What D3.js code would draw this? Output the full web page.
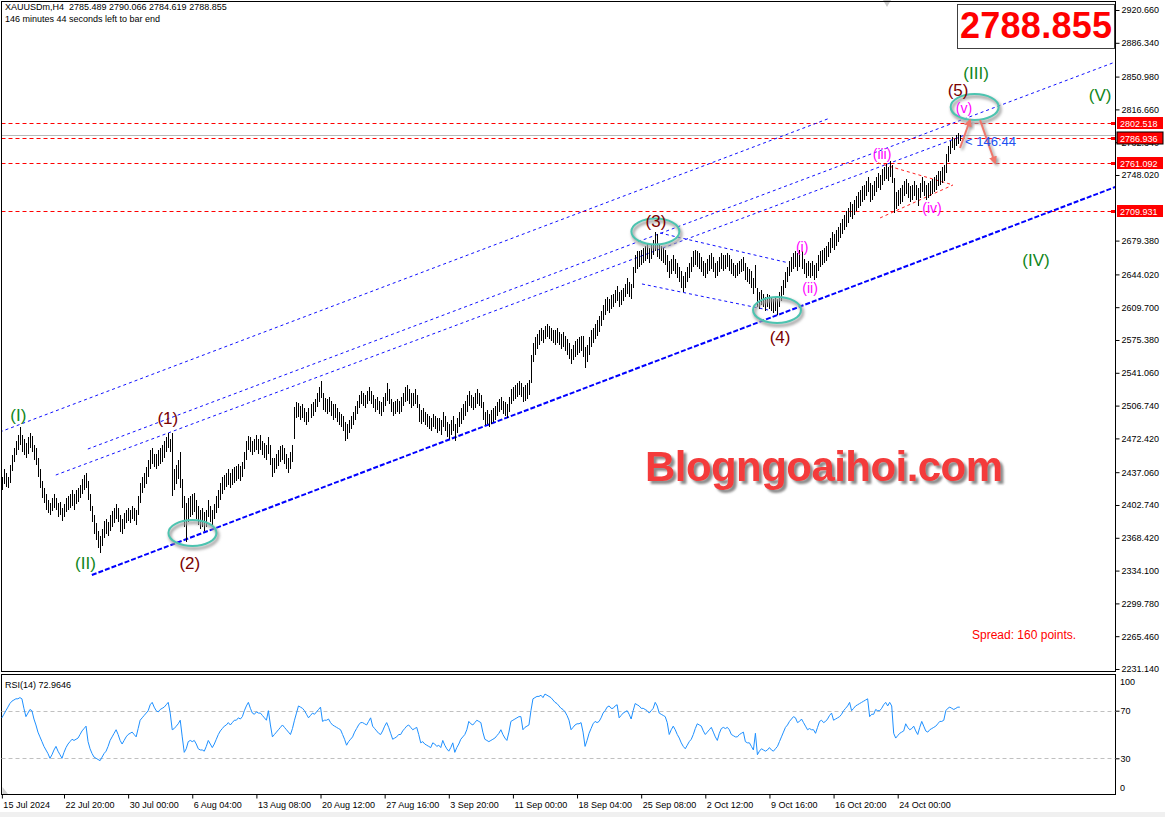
<!DOCTYPE html>
<html>
<head>
<meta charset="utf-8">
<title>XAUUSDm,H4</title>
<script src="https://d3js.org/d3.v7.min.js"></script>
<style>
  body { margin: 0; background: #fff; font-family: "Liberation Sans", Arial, sans-serif; }
  svg { display: block; }
  .tick text { font-family: "Liberation Sans", Arial, sans-serif; font-size: 9px; fill: #000; }
  .tick line { stroke: #000; }
</style>
</head>
<body>
<svg id="chart" width="1165" height="817"></svg>
<script>
// H4 bars, [low, high], one per bar from 15 Jul 2024
const priceBars = [
  [2418,2432],[2425,2440],[2422,2436],[2420,2432],[2426,2445],[2438,2455],[2448,2462],[2455,2470],[2460,2476],[2465,2484],
  [2458,2476],[2455,2472],[2452,2468],[2456,2474],[2462,2478],[2458,2475],[2450,2466],[2445,2462],[2432,2452],[2420,2440],
  [2410,2428],[2405,2420],[2398,2414],[2394,2408],[2392,2405],[2396,2410],[2400,2414],[2398,2410],[2390,2405],[2392,2406],
  [2386,2400],[2390,2404],[2395,2410],[2398,2412],[2400,2414],[2402,2418],[2398,2414],[2404,2418],[2406,2420],[2410,2424],
  [2414,2430],[2418,2434],[2420,2436],[2408,2428],[2396,2414],[2385,2402],[2372,2392],[2366,2384],[2358,2376],[2352,2370],
  [2360,2378],[2368,2386],[2372,2388],[2370,2385],[2376,2392],[2380,2396],[2384,2400],[2388,2404],[2385,2400],[2375,2392],
  [2372,2388],[2378,2394],[2384,2398],[2386,2400],[2384,2398],[2388,2402],[2386,2400],[2382,2398],[2392,2412],[2405,2426],
  [2415,2432],[2420,2436],[2425,2442],[2432,2450],[2440,2460],[2446,2462],[2442,2456],[2440,2456],[2444,2460],[2446,2462],
  [2448,2466],[2452,2470],[2458,2474],[2462,2478],[2458,2472],[2412,2478],[2418,2440],[2425,2445],[2430,2450],[2420,2458],
  [2400,2430],[2380,2412],[2364,2405],[2385,2410],[2390,2412],[2392,2414],[2395,2415],[2388,2408],[2382,2402],[2378,2398],
  [2380,2400],[2376,2395],[2380,2398],[2390,2408],[2385,2402],[2382,2398],[2388,2404],[2394,2412],[2400,2418],[2408,2426],
  [2414,2432],[2418,2434],[2422,2436],[2424,2440],[2420,2436],[2424,2440],[2426,2442],[2428,2444],[2430,2446],[2428,2444],
  [2432,2448],[2440,2458],[2450,2470],[2460,2475],[2458,2474],[2455,2470],[2458,2472],[2460,2476],[2456,2472],[2460,2476],
  [2455,2470],[2452,2468],[2450,2465],[2456,2474],[2445,2466],[2432,2452],[2436,2452],[2440,2456],[2444,2460],[2448,2464],
  [2450,2466],[2446,2462],[2440,2456],[2436,2452],[2440,2458],[2448,2466],[2472,2505],[2494,2510],[2495,2509],[2492,2506],
  [2494,2508],[2490,2504],[2486,2500],[2490,2504],[2494,2508],[2496,2510],[2500,2514],[2505,2520],[2510,2526],[2515,2532],
  [2502,2520],[2500,2515],[2498,2514],[2500,2516],[2496,2512],[2492,2508],[2494,2508],[2490,2504],[2486,2500],[2484,2498],
  [2480,2496],[2470,2490],[2472,2488],[2478,2492],[2482,2496],[2486,2500],[2492,2506],[2498,2512],[2504,2518],[2508,2522],
  [2506,2520],[2504,2518],[2508,2522],[2512,2526],[2508,2522],[2504,2518],[2500,2514],[2502,2516],[2498,2512],[2496,2510],
  [2500,2516],[2506,2520],[2512,2530],[2508,2524],[2500,2514],[2496,2510],[2498,2512],[2500,2514],[2498,2512],[2500,2516],
  [2506,2520],[2510,2526],[2512,2528],[2508,2524],[2504,2520],[2506,2520],[2508,2524],[2504,2518],[2490,2508],[2488,2502],
  [2490,2504],[2486,2500],[2484,2498],[2482,2496],[2480,2494],[2484,2498],[2482,2496],[2478,2494],[2480,2494],[2476,2492],
  [2484,2500],[2480,2496],[2474,2490],[2472,2488],[2476,2492],[2480,2496],[2470,2488],[2478,2494],[2484,2500],[2488,2504],
  [2492,2508],[2496,2512],[2500,2518],[2506,2522],[2504,2518],[2502,2516],[2504,2520],[2508,2524],[2506,2520],[2504,2518],
  [2492,2510],[2486,2500],[2488,2502],[2484,2498],[2488,2502],[2490,2504],[2492,2506],[2496,2510],[2500,2514],[2502,2516],
  [2498,2512],[2496,2510],[2494,2508],[2500,2516],[2508,2524],[2512,2526],[2514,2528],[2516,2530],[2518,2532],[2516,2530],
  [2510,2526],[2512,2528],[2514,2530],[2518,2534],[2530,2560],[2552,2572],[2560,2578],[2566,2582],[2570,2586],[2574,2588],
  [2572,2586],[2576,2590],[2578,2592],[2576,2590],[2574,2588],[2572,2586],[2570,2586],[2572,2588],[2570,2584],[2566,2582],
  [2568,2584],[2564,2580],[2560,2576],[2556,2572],[2550,2566],[2554,2570],[2558,2574],[2560,2576],[2562,2578],[2564,2580],
  [2558,2580],[2546,2568],[2552,2570],[2560,2578],[2568,2586],[2572,2588],[2576,2592],[2580,2596],[2584,2600],[2590,2606],
  [2596,2612],[2602,2618],[2606,2620],[2604,2618],[2608,2622],[2610,2624],[2614,2628],[2616,2632],[2610,2626],[2612,2628],
  [2616,2630],[2620,2634],[2624,2640],[2620,2636],[2618,2634],[2630,2652],[2645,2664],[2650,2668],[2652,2668],[2654,2670],
  [2656,2672],[2658,2674],[2660,2676],[2656,2672],[2660,2676],[2664,2680],[2668,2688],[2662,2686],[2660,2676],[2658,2674],
  [2656,2672],[2654,2670],[2646,2664],[2640,2658],[2644,2660],[2648,2664],[2644,2660],[2640,2656],[2636,2652],[2630,2648],
  [2626,2642],[2630,2646],[2636,2652],[2640,2656],[2646,2662],[2652,2668],[2654,2670],[2652,2668],[2650,2666],[2646,2662],
  [2642,2658],[2640,2656],[2644,2660],[2648,2664],[2650,2666],[2646,2662],[2640,2656],[2642,2658],[2646,2662],[2650,2666],
  [2648,2664],[2650,2664],[2652,2666],[2648,2664],[2644,2660],[2642,2656],[2640,2654],[2642,2656],[2644,2658],[2646,2660],
  [2648,2662],[2638,2656],[2636,2652],[2634,2650],[2630,2648],[2624,2640],[2630,2654],[2610,2630],[2608,2626],[2612,2628],
  [2610,2624],[2606,2620],[2610,2624],[2608,2622],[2606,2620],[2604,2618],[2606,2620],[2602,2618],[2610,2626],[2616,2632],
  [2622,2638],[2630,2646],[2636,2652],[2642,2658],[2646,2662],[2650,2666],[2652,2668],[2648,2666],[2652,2670],[2650,2668],
  [2644,2660],[2640,2656],[2642,2658],[2640,2656],[2642,2658],[2638,2654],[2640,2656],[2648,2664],[2652,2668],[2654,2670],
  [2656,2672],[2658,2674],[2662,2678],[2666,2682],[2672,2688],[2670,2686],[2674,2690],[2678,2694],[2682,2698],[2686,2702],
  [2690,2706],[2694,2710],[2698,2714],[2704,2720],[2702,2718],[2706,2722],[2710,2726],[2714,2730],[2716,2732],[2720,2736],
  [2722,2738],[2726,2742],[2730,2746],[2720,2740],[2722,2738],[2726,2742],[2730,2746],[2734,2750],[2732,2748],[2738,2754],
  [2742,2756],[2744,2760],[2742,2756],[2746,2763],[2740,2758],[2708,2745],[2712,2730],[2716,2732],[2718,2734],[2720,2738],
  [2726,2742],[2728,2744],[2724,2740],[2720,2736],[2722,2738],[2726,2742],[2722,2738],[2716,2734],[2724,2740],[2730,2746],
  [2726,2742],[2722,2738],[2724,2740],[2726,2742],[2728,2744],[2730,2746],[2732,2748],[2736,2752],[2738,2752],[2740,2756],
  [2742,2758],[2750,2770],[2762,2778],[2770,2784],[2776,2788],[2774,2786],[2778,2790],[2780,2792],[2784,2790]
];

// RSI(14), one value per bar
const rsiValues = [
  64,67,70,73,76,78,79,80,80,81, 80,72,65,68,71,70,63,58,52,48,
  44,40,37,34,30,33,37,40,36,33, 30,35,39,42,44,46,45,46,47,50,
  53,55,57,44,38,34,31,30,29,28, 31,34,36,40,45,48,51,54,50,45,
  42,45,48,50,51,52,50,48,55,62, 64,66,68,70,75,77,73,70,69,71,
  72,73,75,77,68,54,55,57,59,62, 48,35,38,44,45,44,45,42,38,37,
  37,36,40,45,42,39,42,46,50,53, 55,57,58,60,58,60,62,62,64,63,
  65,70,74,77,72,68,67,69,68,68, 66,64,62,70,58,48,50,52,54,56,
  58,56,54,52,50,55,62,68,74,73, 72,70,67,64,66,68,67,69,71,73,
  61,62,62,63,60,58,57,56,55,54, 50,46,41,44,46,48,52,55,58,60,
  60,59,58,61,64,57,55,53,51,50, 53,57,60,56,51,46,47,48,50,50,
  53,55,57,58,56,54,55,56,50,43, 44,42,41,40,39,43,42,40,41,39,
  45,41,38,36,39,43,35,39,42,46, 48,50,54,61,59,58,60,62,61,60,
  52,46,45,44,45,46,47,49,51,54, 50,47,45,52,61,62,63,64,65,65,
  54,56,57,58,70,80,81,82,82,83, 81,84,83,82,81,79,77,76,74,72,
  71,69,66,62,54,56,58,59,59,60, 52,40,45,51,55,59,61,60,61,64,
  68,70,73,74,72,72,74,75,64,66, 68,69,70,67,63,70,76,75,74,72,
  72,71,70,68,70,72,77,74,68,67, 66,65,60,50,54,57,54,50,47,43,
  40,38,41,44,46,50,55,59,58,57, 53,50,52,54,56,52,48,45,51,55,
  56,55,56,54,50,49,48,48,50,51, 52,44,43,43,40,37,51,33,36,38,
  37,36,37,39,37,36,38,40,44,48, 52,56,58,61,63,65,64,60,61,63,
  60,57,54,55,54,54,51,56,61,62, 60,61,63,66,68,62,63,64,65,67,
  70,72,74,77,70,72,74,75,76,77, 78,79,80,65,67,67,71,70,70,72,
  75,77,74,77,74,51,47,49,51,52, 53,59,56,54,55,57,53,50,56,61,
  57,53,52,54,55,56,57,59,61,61, 62,70,72,73,72,71,72,73,72.9646
];

const priceTicks = [2920.660, 2886.340, 2850.980, 2816.660, 2782.340, 2748.020, 2679.380,
  2644.020, 2609.700, 2575.380, 2541.060, 2506.740, 2472.420, 2437.060, 2402.740, 2368.420,
  2334.100, 2299.780, 2265.460, 2231.140];

const timeTickBars = [0, 31, 63, 95, 127, 159, 191, 223, 255, 287, 319, 351, 383, 415, 447];
const timeTickLabels = ["15 Jul 2024", "22 Jul 20:00", "30 Jul 00:00", "6 Aug 04:00", "13 Aug 08:00",
  "20 Aug 12:00", "27 Aug 16:00", "3 Sep 20:00", "11 Sep 00:00", "18 Sep 04:00", "25 Sep 08:00",
  "2 Oct 12:00", "9 Oct 16:00", "16 Oct 20:00", "24 Oct 00:00"];

// horizontal levels shown with a tag on the price axis
const redLevels = [2802.518, 2786.936, 2761.092, 2709.931];
const bidPrice = 2788.855;

// channel lines: [bar1, price1, bar2, price2]
const channelLines = [
  [-1, 2479.1, 413.2, 2807.6],
  [42.9, 2461.3, 555.5, 2866.2],
  [26.9, 2434.1, 480.6, 2789.9]
];
const channelBase = [44.9, 2329.5, 555.5, 2735.4];
const wedgeLines = [
  [328.4, 2687.3, 392.3, 2656.2],
  [319.4, 2634.0, 382.3, 2606.8]
];
const triangleLines = [
  [437.2, 2760.6, 474.6, 2737.6],
  [438.2, 2703.1, 474.6, 2737.6]
];

// wave labels: [text, bar, price, degree]
const waveLabels = [
  ["(I)", 8.2, 2497.4, "primary"], ["(II)", 41.7, 2342.0, "primary"],
  ["(III)", 486.1, 2854.7, "primary"], ["(IV)", 516.0, 2659.1, "primary"], ["(V)", 548.0, 2831.7, "primary"],
  ["(1)", 82.8, 2493.7, "inter"], ["(2)", 93.8, 2342.0, "inter"], ["(3)", 326.4, 2699.9, "inter"],
  ["(4)", 388.3, 2578.5, "inter"], ["(5)", 477.1, 2836.9, "inter"],
  ["(i)", 399.3, 2672.7, "minor"], ["(ii)", 403.3, 2629.8, "minor"], ["(iii)", 439.2, 2769.9, "minor"],
  ["(iv)", 464.1, 2713.5, "minor"], ["(v)", 480.1, 2818.2, "minor"]
];

// highlighted turning points: [bar, price]
const markedPoints = [[95.1, 2373.4], [326.1, 2688.9], [386.8, 2606.8], [485.4, 2819.2]];

// projected moves: [barFrom, priceFrom, barTo, priceTo]
const projections = [[478.1, 2776.3, 483.1, 2805.6], [488.1, 2805.6, 495.6, 2760.6]];

const svg = d3.select("#chart");
const W = 1165, H = 817;
const plotLeft = 1.5, plotRight = 1115.5, plotTop = 1.5, plotBottom = 671.5;
const rsiTop = 674.5, rsiBottom = 794.5;

const x = d3.scaleLinear().domain([31, 447]).range([64, 897.7]);
const y = d3.scaleLinear().domain([2228.52, 2929.55]).range([plotBottom, plotTop]);
const yRsi = d3.scaleLinear().domain([0, 100]).range([794, 675]);

const defs = svg.append("defs");
defs.append("clipPath").attr("id", "plotClip").append("rect")
    .attr("x", plotLeft).attr("y", plotTop).attr("width", plotRight - plotLeft).attr("height", plotBottom - plotTop);
defs.append("filter").attr("id", "soft").attr("x", "-20%").attr("y", "-20%").attr("width", "140%").attr("height", "140%")
    .append("feGaussianBlur").attr("stdDeviation", 1.4);
defs.append("filter").attr("id", "dropShadow").attr("x", "-5%").attr("y", "-20%").attr("width", "110%").attr("height", "150%")
    .append("feDropShadow").attr("dx", 3).attr("dy", 3).attr("stdDeviation", 1.3)
    .attr("flood-color", "#707070").attr("flood-opacity", 0.8);
const arrowMarker = (id, color) => defs.append("marker").attr("id", id)
    .attr("viewBox", "0 0 10 10").attr("refX", 8).attr("refY", 5)
    .attr("markerWidth", 4).attr("markerHeight", 4).attr("orient", "auto")
    .append("path").attr("d", "M0,0 L10,5 L0,10 z").attr("fill", color);
arrowMarker("arrowRed", "#f0766a");
arrowMarker("arrowGrey", "#9a9a9a");

svg.append("rect").attr("width", W).attr("height", H).attr("fill", "#fff");
svg.append("rect").attr("x", 0).attr("y", 812).attr("width", W).attr("height", 5).attr("fill", "#f0f0f0");

const plot = svg.append("g").attr("clip-path", "url(#plotClip)");

// horizontal levels
plot.append("g").selectAll("line").data(redLevels).join("line")
    .attr("x1", plotLeft).attr("x2", plotRight)
    .attr("y1", d => Math.round(y(d)) + 0.5).attr("y2", d => Math.round(y(d)) + 0.5)
    .style("stroke", "#ff0000").style("stroke-dasharray", "4,3");
plot.append("line")
    .attr("x1", plotLeft).attr("x2", plotRight)
    .attr("y1", Math.round(y(bidPrice)) - 0.5).attr("y2", Math.round(y(bidPrice)) - 0.5)
    .style("stroke", "#b8b8b8");

// channel
const seg = (g, d) => g.attr("x1", x(d[0])).attr("y1", y(d[1])).attr("x2", x(d[2])).attr("y2", y(d[3]));
channelLines.forEach(d => seg(plot.append("line"), d).style("stroke", "#1010ff").style("stroke-dasharray", "3,3"));
seg(plot.append("line"), channelBase).style("stroke", "#0000ff").attr("stroke-width", 2).style("stroke-dasharray", "5,2");
wedgeLines.forEach(d => seg(plot.append("line"), d).style("stroke", "#1010ff").style("stroke-dasharray", "3,3"));
triangleLines.forEach(d => seg(plot.append("line"), d).style("stroke", "#ff2020").style("stroke-dasharray", "3,3"));

// bars
plot.append("g").selectAll("line").data(priceBars).join("line")
    .attr("x1", (d, i) => Math.round(x(i)) + 0.5).attr("x2", (d, i) => Math.round(x(i)) + 0.5)
    .attr("y1", d => y(d[1])).attr("y2", d => y(d[0]))
    .style("stroke", "#000").attr("shape-rendering", "crispEdges");

// ellipses
markedPoints.forEach(d => {
  plot.append("ellipse").attr("cx", x(d[0]) + 1.5).attr("cy", y(d[1]) + 2.5).attr("rx", 24).attr("ry", 13)
      .attr("fill", "none").attr("stroke", "#a0a0a0").attr("stroke-width", 3).attr("filter", "url(#soft)");
  plot.append("ellipse").attr("cx", x(d[0])).attr("cy", y(d[1])).attr("rx", 24).attr("ry", 13)
      .attr("fill", "none").attr("stroke", "#4cc4b0").attr("stroke-width", 2);
});

// arrows
projections.forEach(d => {
  plot.append("line").attr("x1", x(d[0]) + 2).attr("y1", y(d[1]) + 2).attr("x2", x(d[2]) + 2).attr("y2", y(d[3]) + 2)
      .attr("stroke", "#9a9a9a").attr("stroke-width", 2).attr("marker-end", "url(#arrowGrey)").attr("filter", "url(#soft)");
  plot.append("line").attr("x1", x(d[0])).attr("y1", y(d[1])).attr("x2", x(d[2])).attr("y2", y(d[3]))
      .attr("stroke", "#f0766a").attr("stroke-width", 2).attr("marker-end", "url(#arrowRed)");
});

// wave labels
const degreeColor = { primary: "#10861a", inter: "#7a0000", minor: "#ff00ff" };
const degreeSize = { primary: 17, inter: 17, minor: 14 };
plot.selectAll("text.wave").data(waveLabels).join("text")
    .attr("x", d => x(d[1])).attr("y", d => y(d[2]) + degreeSize[d[3]] * 0.36)
    .attr("text-anchor", "middle").attr("fill", d => degreeColor[d[3]])
    .style("font-size", d => degreeSize[d[3]] + "px").text(d => d[0]);

// countdown
plot.append("text").attr("x", 965).attr("y", y(bidPrice) + 10)
    .attr("fill", "#2050f0").style("font-size", "13px").text("< 146:44");

// watermark
svg.append("text").attr("x", 824).attr("y", 481).attr("text-anchor", "middle")
    .attr("fill", "#f43a3a").attr("textLength", 358).attr("filter", "url(#dropShadow)")
    .style("font-size", "42px").style("font-weight", "bold").text("Blogngoaihoi.com");

svg.append("text").attr("x", 972).attr("y", 639).attr("fill", "#ff0000")
    .style("font-size", "12px").text("Spread: 160 points.");

// header
svg.append("text").attr("x", 5).attr("y", 10).style("font-size", "9px").style("white-space", "pre")
    .text("XAUUSDm,H4  2785.489 2790.066 2784.619 2788.855");
svg.append("text").attr("x", 5).attr("y", 22).style("font-size", "9px")
    .text("146 minutes 44 seconds left to bar end");

// big price box
svg.append("rect").attr("x", 957.5).attr("y", 4.5).attr("width", 157).attr("height", 44)
    .attr("fill", "#fff").attr("stroke", "#404040");
svg.append("text").attr("x", 1036).attr("y", 37.5).attr("text-anchor", "middle").attr("fill", "#ff0000")
    .attr("textLength", 152).style("font-size", "36px").style("font-weight", "bold").text(bidPrice.toFixed(3));

// chart shift marker
svg.append("path").attr("d", "M883,0 L891,0 L887,7 z").attr("fill", "#c8c8c8");

// frames
svg.append("rect").attr("x", plotLeft).attr("y", plotTop).attr("width", plotRight - plotLeft)
    .attr("height", plotBottom - plotTop).attr("fill", "none").attr("stroke", "#000");
svg.append("rect").attr("x", plotLeft).attr("y", rsiTop).attr("width", plotRight - plotLeft)
    .attr("height", rsiBottom - rsiTop).attr("fill", "none").attr("stroke", "#000");

// price axis
const yAxis = svg.append("g").attr("transform", "translate(" + plotRight + ",0)")
    .call(d3.axisRight(y).tickValues(priceTicks).tickFormat(d3.format(".3f")).tickSize(4).tickPadding(2));
yAxis.select(".domain").remove();

// level tags on the axis
const tags = svg.append("g").selectAll("g").data(redLevels).join("g")
    .attr("transform", d => "translate(1117," + Math.round(y(d)) + ")");
tags.append("rect").attr("x", 0).attr("y", -6).attr("width", 46).attr("height", 12).attr("fill", "#ff0000")
    .attr("stroke", (d, i) => i === 1 ? "#000" : "none");
tags.append("text").attr("x", 3).attr("y", 3.5).attr("fill", "#fff").style("font-size", "9px")
    .text(d => d.toFixed(3));
svg.append("g").selectAll("rect").data(redLevels).join("rect")
    .attr("x", 1111).attr("y", d => Math.round(y(d)) - 1).attr("width", 4).attr("height", 3).attr("fill", "#ff0000");

// RSI
const rsiG = svg.append("g");
rsiG.selectAll("line").data([70, 30]).join("line")
    .attr("x1", plotLeft).attr("x2", plotRight)
    .attr("y1", d => Math.round(yRsi(d)) + 0.5).attr("y2", d => Math.round(yRsi(d)) + 0.5)
    .style("stroke", "#c0c0c0").style("stroke-dasharray", "4,3");
rsiG.append("path").datum(rsiValues)
    .attr("d", d3.line().x((d, i) => x(i)).y(d => yRsi(d)))
    .attr("fill", "none").attr("stroke", "#1e90ff").attr("stroke-width", 1);
rsiG.append("text").attr("x", 5).attr("y", 688).style("font-size", "9px")
    .text("RSI(14) " + rsiValues[rsiValues.length - 1].toFixed(4));
svg.append("path").attr("d", "M2.5,787 L2.5,794 L8,794 z").attr("fill", "#d0d0d0");

const rsiAxis = svg.append("g").attr("transform", "translate(" + plotRight + ",0)")
    .call(d3.axisRight(yRsi).tickValues([70, 30]).tickSize(4).tickPadding(1));
rsiAxis.select(".domain").remove();
svg.append("text").attr("x", 1120).attr("y", 685).style("font-size", "9px").text("100");
svg.append("text").attr("x", 1120).attr("y", 791).style("font-size", "9px").text("0");

// time axis
const xAxis = svg.append("g").attr("transform", "translate(0," + rsiBottom + ")")
    .call(d3.axisBottom(x).tickValues(timeTickBars).tickFormat((d, i) => timeTickLabels[i]).tickSize(4).tickPadding(2));
xAxis.select(".domain").remove();
xAxis.selectAll(".tick text").attr("text-anchor", "start").attr("dx", 1).attr("dy", "0.85em");
</script>
</body>
</html>
